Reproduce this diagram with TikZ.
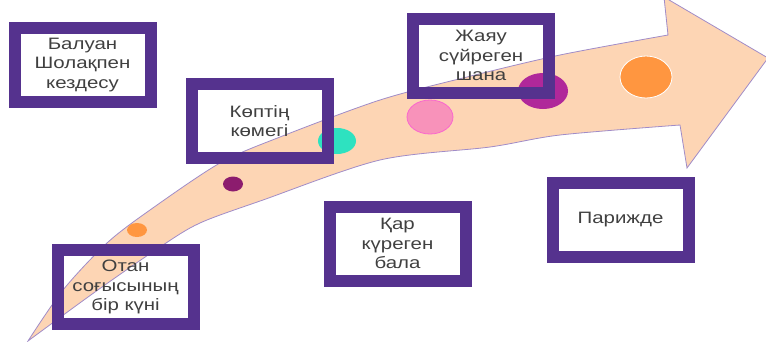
\documentclass[tikz,border=0pt]{standalone}
\usepackage{fontspec}
\setmainfont{Liberation Sans}[FakeStretch=1.24]
\usepackage{tikz}
\usetikzlibrary{positioning}
\definecolor{framepurple}{RGB}{85,50,142}
\definecolor{bandfill}{RGB}{253,213,180}
\definecolor{bandline}{RGB}{160,140,200}
\definecolor{textgray}{RGB}{64,64,64}
\definecolor{dotorange}{RGB}{255,150,64}
\definecolor{dotplum}{RGB}{140,28,110}
\definecolor{dotteal}{RGB}{46,226,192}
\definecolor{dotpink}{RGB}{248,146,186}
\definecolor{dotmagenta}{RGB}{176,40,154}

\begin{document}
\begin{tikzpicture}[x=1pt, y=-1pt,
    storybox/.style={draw=framepurple, line width=12pt, minimum width=136pt,
      minimum height=74pt, inner sep=0pt, align=center, text=textgray,
      font=\fontsize{16.5}{19.5}\selectfont}]
    \useasboundingbox (0,0) rectangle (766,341);
    % curved arrow band
    \filldraw[fill=bandfill, draw=bandline, line width=0.8pt]
      plot[smooth] coordinates {(28,341) (63,290) (107,243) (150,210) (220,163)
        (280,137) (380,100) (467,77) (560,55) (668,35)}
      -- (664,-3) -- (768,58) -- (687,168) -- (680,125)
      -- plot[smooth] coordinates {(680,125) (560,135) (490,147) (380,160)
        (263,200) (200,223) (160,247) (95,292) (28,341)} -- cycle;
    % dots along the band
    \fill[dotorange] (137,230) ellipse (10 and 7);
    \fill[dotplum] (233,184) ellipse (10 and 7.5);
    \fill[dotteal] (337,141) ellipse (19 and 13);
    \filldraw[fill=dotpink, draw=dotpink!70!magenta, line width=0.8pt] (430,117) ellipse (23 and 17);
    \fill[dotmagenta] (543,91) ellipse (25 and 18);
    \filldraw[fill=dotorange, draw=white, line width=0.8pt] (646,77) ellipse (26 and 21);
    % story boxes
    \node[storybox] (balwan) at (82.5,65) {Балуан\\Шолақпен\\кездесу};
    \node[storybox] (kopting) at (259.5,121) {Көптің\\көмегі};
    \node[storybox] (shana) at (481,55.5) {Жаяу\\сүйреген\\шана};
    \node[storybox] (otan) at (125.5,287) {Отан\\соғысының\\бір күні};
    \node[storybox] (qar) at (397.5,243.5) {Қар\\күреген\\бала};
    \node[storybox] (parizh) at (620.5,220) {Парижде};
  \end{tikzpicture}
\end{document}
